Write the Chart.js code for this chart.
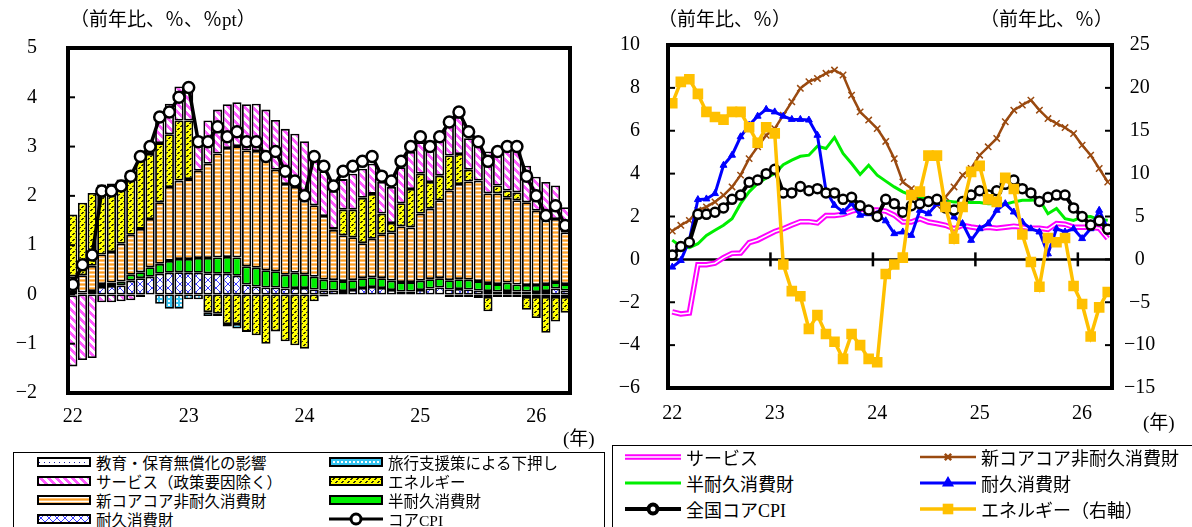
<!DOCTYPE html>
<html>
<head>
<meta charset="utf-8">
<script src="https://cdn.jsdelivr.net/npm/chart.js@4.4.1/dist/chart.umd.min.js"></script>
<style>
  html, body { margin: 0; padding: 0; background: #fff; }
  body { width: 1192px; height: 527px; overflow: hidden; position: relative;
         font-family: "Liberation Serif", "Noto Sans CJK JP", serif; color: #000; }
  .abs { position: absolute; white-space: nowrap; }
  .title { font-size: 19px; line-height: 28px; }
  .legend { position: absolute; border: 1.5px solid #000; background: #fff; }
  .item { position: absolute; display: flex; align-items: center; white-space: nowrap; }
</style>
</head>
<body>
<canvas id="left" class="abs" width="600" height="445" style="left:0;top:0"></canvas>
<canvas id="right" class="abs" width="592" height="445" style="left:600px;top:0"></canvas>

<div class="abs title" style="left:70px;top:6px">（前年比、％、％pt）</div>
<div class="abs title" style="left:658px;top:6px">（前年比、％）</div>
<div class="abs title" style="left:980px;top:6px">（前年比、％）</div>
<div class="abs" style="left:563px;top:423px;font-size:19px">(年)</div>
<div class="abs" style="left:1143px;top:407px;font-size:19px">(年)</div>

<div class="legend" style="left:13px;top:452px;width:590px;height:100px"></div>
<div class="legend" style="left:612px;top:445px;width:600px;height:100px"></div>
<div id="legendItems"></div>

<script>
// Jan 2022 .. Apr 2026
const months = [
  "22/01","22/02","22/03","22/04","22/05","22/06","22/07","22/08","22/09","22/10","22/11","22/12",
  "23/01","23/02","23/03","23/04","23/05","23/06","23/07","23/08","23/09","23/10","23/11","23/12",
  "24/01","24/02","24/03","24/04","24/05","24/06","24/07","24/08","24/09","24/10","24/11","24/12",
  "25/01","25/02","25/03","25/04","25/05","25/06","25/07","25/08","25/09","25/10","25/11","25/12",
  "26/01","26/02","26/03","26/04"
];
const yearLabels = ["22", "23", "24", "25", "26"];

// left panel: contributions (%pt)
const eduEffect = [
  0,0,0,0,0,0,0,0,0,0,0,0,
  0,0,0,0,0,0,0,0,0,0,0,0,
  0,0,0,0,0,0,0,0,0,0,0,0,
  0,0,0,-0.05,-0.05,-0.05,-0.05,-0.05,-0.05,-0.05,-0.05,-0.05,
  -0.05,-0.05,-0.05,-0.05
];
const travelSupport = [
  0,0,0,0,0,0,0,0,0,-0.19,-0.29,-0.29,
  -0.10,-0.10,-0.08,-0.05,-0.05,-0.09,0,0,0,0,0,0,
  0,0,0,0,0,0,0,0,0,0,0,0,
  0,0,0,0,0,0,0,0,0,0,0,0,
  0,0,0,0
];
const durableC = [
  -0.02,0.00,0.03,0.15,0.17,0.18,0.28,0.33,0.36,0.42,0.44,0.45,
  0.44,0.44,0.43,0.42,0.42,0.38,0.20,0.16,0.14,0.14,0.12,0.13,
  0.13,0.10,0.08,0.08,0.07,0.09,0.13,0.15,0.13,0.09,0.06,0.06,
  0.09,0.12,0.14,0.10,0.11,0.10,0.08,0.07,0.06,0.07,0.06,0.06,
  0.05,0.07,0.12,0.08
];
const semiDurableC = [
  0.05,0.04,0.04,0.06,0.07,0.08,0.12,0.12,0.19,0.20,0.24,0.27,
  0.28,0.30,0.31,0.33,0.34,0.37,0.37,0.38,0.35,0.33,0.28,0.31,
  0.28,0.26,0.22,0.21,0.20,0.20,0.20,0.20,0.20,0.19,0.19,0.19,
  0.19,0.19,0.19,0.19,0.20,0.20,0.19,0.16,0.15,0.17,0.14,0.13,
  0.14,0.14,0.13,0.13
];
const coreCoreC = [
  0.32,0.35,0.51,0.60,0.62,0.77,0.81,0.88,0.98,1.25,1.50,1.59,
  1.62,1.77,1.91,2.11,2.21,2.26,2.35,2.37,2.29,2.06,1.84,1.74,
  1.60,1.45,1.29,1.02,0.93,0.87,0.71,0.78,0.89,0.98,1.13,1.11,
  1.36,1.43,1.58,1.82,1.93,1.99,2.04,1.82,1.84,1.72,1.71,1.68,
  1.51,1.29,1.28,1.05
];
const energyC = [
  1.25,1.47,1.48,1.42,1.39,1.30,1.30,1.45,1.32,1.20,1.07,1.22,
  1.19,0.00,-0.36,-0.39,-0.60,-0.60,-0.76,-0.83,-1.00,-0.75,-0.95,-1.03,
  -1.10,-0.14,-0.04,0.02,0.52,0.56,0.92,0.91,0.42,0.19,0.47,0.78,
  0.81,0.54,0.50,0.71,0.61,0.24,-0.02,-0.29,0.16,0.15,0.16,-0.26,
  -0.43,-0.73,-0.50,-0.32
];
const serviceC = [
  -1.44,-1.33,-1.29,-0.16,-0.16,-0.14,-0.12,-0.05,0.10,0.50,0.62,0.69,
  0.67,0.61,0.88,0.89,0.89,0.89,0.94,0.96,0.97,1.01,1.12,1.08,
  1.10,1.01,0.91,0.77,0.62,0.73,0.59,0.61,0.64,0.73,0.73,0.75,
  0.64,0.77,0.74,0.65,0.75,0.64,0.75,0.85,0.75,0.86,0.88,0.74,
  0.69,0.78,0.68,0.51
];
const coreCpi = [
  0.2,0.6,0.8,2.1,2.1,2.2,2.4,2.8,3.0,3.6,3.7,4.0,
  4.2,3.1,3.1,3.4,3.2,3.3,3.1,3.1,2.8,2.9,2.5,2.3,
  2.0,2.8,2.6,2.2,2.5,2.6,2.7,2.8,2.4,2.3,2.7,3.0,
  3.2,3.0,3.2,3.5,3.7,3.3,3.1,2.7,2.9,3.0,3.0,2.4,
  2.0,1.6,1.8,1.4
];

// right panel: y/y % changes
const serviceYoY = [
  -2.45,-2.55,-2.50,-0.25,-0.25,-0.18,0.08,0.28,0.30,0.78,0.90,1.10,
  1.30,1.43,1.60,1.76,1.76,1.70,2.05,2.05,2.10,2.25,2.35,2.30,
  2.30,2.25,2.06,1.74,1.74,1.90,1.74,1.67,1.59,1.43,1.59,1.51,
  1.45,1.50,1.45,1.50,1.55,1.50,1.45,1.45,1.40,1.67,1.64,1.50,
  1.50,1.50,1.45,0.97
];
const coreCoreYoY = [
  1.32,1.59,1.82,2.29,2.45,2.68,2.99,3.38,3.93,4.70,5.25,5.79,
  6.10,6.73,7.35,7.98,8.29,8.44,8.68,8.83,8.60,7.66,6.88,6.50,
  6.10,5.50,4.70,3.61,3.30,2.60,2.76,2.52,2.91,3.38,3.93,4.24,
  4.86,5.25,5.64,6.42,6.96,7.20,7.43,6.96,6.57,6.34,6.15,5.87,
  5.33,4.86,4.24,3.61
];
const semiDurableYoY = [
  0.90,0.60,0.55,0.73,1.12,1.36,1.59,1.90,2.60,3.15,3.54,3.80,
  4.00,4.42,4.63,4.81,4.86,5.28,5.17,5.69,4.94,4.47,3.96,4.39,
  3.93,3.65,3.38,3.15,2.99,2.91,2.83,2.79,2.73,2.68,2.68,2.65,
  2.65,2.60,2.60,2.57,2.68,2.76,2.76,2.79,2.13,2.37,1.90,1.82,
  1.98,2.00,1.85,1.82
];
const durableYoY = [
  -0.36,-0.05,0.89,2.79,2.82,3.07,4.39,4.86,5.72,6.26,6.68,7.00,
  6.88,6.68,6.53,6.53,6.50,5.79,3.20,2.52,2.21,2.60,2.06,2.13,
  2.10,1.80,1.20,1.28,1.12,2.29,2.13,2.60,2.60,1.98,1.67,0.89,
  1.43,1.67,2.29,2.60,2.21,1.74,1.43,1.28,0.26,1.43,1.28,1.43,
  0.97,1.43,2.29,1.43
];
const energyYoY = [
  18.2,20.7,21.0,19.3,17.2,16.6,16.3,17.2,17.2,15.4,13.6,15.4,
  14.7,-0.6,-3.7,-4.3,-8.1,-6.5,-8.7,-9.6,-11.6,-8.7,-10.0,-11.6,
  -12.0,-1.7,-0.6,0.2,7.5,7.9,12.1,12.1,6.1,2.4,6.1,10.2,
  10.9,7.0,6.7,9.5,8.2,2.9,-0.3,-3.2,2.5,2.0,2.5,-3.1,
  -5.2,-9.0,-5.6,-3.8
];

const FONT = '"Liberation Serif", "Noto Sans CJK JP", serif';
const minus = v => String(v).replace('-', '\u2212');

// small repeating fills for the bar segments
function tile(w, h, colorAt) {
  const c = document.createElement("canvas");
  c.width = w; c.height = h;
  const g = c.getContext("2d");
  for (let y = 0; y < h; y++) {
    for (let x = 0; x < w; x++) {
      g.fillStyle = colorAt(x, y);
      g.fillRect(x, y, 1, 1);
    }
  }
  return g.createPattern(c, "repeat");
}
const orangeRows = ["#ff9c1e", "#ffc070", "#ffffff", "#ffc070"];
const fills = {
  edu: tile(5, 4, (x, y) => (x === 2 && y === 1) ? "#1a1aa0" : "#ffffff"),
  travel: tile(4, 4, (x, y) => (x < 2 && y < 2) ? "#ffffff" : "#33c3f0"),
  service: tile(8, 8, (x, y) => ((x - y + 16) % 8) < 4 ? "#ff5cff" : "#ffffff"),
  energy: tile(6, 6, (x, y) => (((x + y) % 6) < 2 && ((x - y + 12) % 6) < 4) ? "#303000" : "#ffff00"),
  coreCore: tile(1, 4, (x, y) => orangeRows[y]),
  semi: "#00f000",
  durable: tile(8, 8, (x, y) => (x === y || x === 7 - y) ? "#3c3cff" : "#ffffff")
};

// thick frame, inward tick marks, and (right panel) zero line with year ticks
function framePlugin(zeroLine) {
  return {
    id: "frame",
    beforeDatasetsDraw(chart) {
      if (!zeroLine) return;
      const { ctx, chartArea: a, scales } = chart;
      const y0 = scales.y.getPixelForValue(0);
      ctx.save();
      ctx.strokeStyle = "#000";
      ctx.lineWidth = 2.5;
      ctx.beginPath();
      ctx.moveTo(a.left, y0);
      ctx.lineTo(a.right, y0);
      ctx.stroke();
      for (let i = 12; i < months.length; i += 12) {
        const x = (scales.x.getPixelForValue(i - 1) + scales.x.getPixelForValue(i)) / 2;
        ctx.beginPath();
        ctx.moveTo(x, y0 - 7);
        ctx.lineTo(x, y0 + 7);
        ctx.stroke();
      }
      ctx.restore();
    },
    afterDatasetsDraw(chart) {
      const { ctx, chartArea: a, scales } = chart;
      ctx.save();
      ctx.strokeStyle = "#000";
      ctx.lineWidth = 2;
      ["y", "y1"].forEach(id => {
        const s = scales[id];
        if (!s) return;
        s.ticks.forEach(t => {
          const y = s.getPixelForValue(t.value);
          if (y <= a.top + 2 || y >= a.bottom - 2) return;
          ctx.beginPath();
          if (s.position === "right") { ctx.moveTo(a.right, y); ctx.lineTo(a.right - 7, y); }
          else { ctx.moveTo(a.left, y); ctx.lineTo(a.left + 7, y); }
          ctx.stroke();
        });
      });
      ctx.lineWidth = 4;
      ctx.strokeRect(a.left, a.top, a.right - a.left, a.bottom - a.top);
      ctx.restore();
    }
  };
}

const tickFont = { family: FONT, size: 20 };
const yearTick = (v, i) => (i % 12 === 0 ? yearLabels[i / 12] : "");

function barSet(label, data, fill) {
  return {
    label: label, data: data, backgroundColor: fill,
    borderColor: "#000", borderWidth: 1.8, borderSkipped: false,
    barPercentage: 0.95, categoryPercentage: 1.0
  };
}

// left: stacked contributions
new Chart(document.getElementById("left"), {
  type: "bar",
  data: {
    labels: months,
    datasets: [
      barSet("教育・保育無償化の影響", eduEffect, fills.edu),
      barSet("耐久消費財", durableC, fills.durable),
      barSet("半耐久消費財", semiDurableC, fills.semi),
      barSet("新コアコア非耐久消費財", coreCoreC, fills.coreCore),
      barSet("エネルギー", energyC, fills.energy),
      barSet("旅行支援策による下押し", travelSupport, fills.travel),
      barSet("サービス（政策要因除く）", serviceC, fills.service),
      {
        type: "line", label: "コアCPI", data: coreCpi, stack: "cpi", order: -1,
        borderColor: "#000", borderWidth: 3.5, tension: 0,
        pointRadius: 5.5, pointBackgroundColor: "#fff", pointBorderColor: "#000", pointBorderWidth: 2.5
      }
    ]
  },
  options: {
    responsive: false, animation: false, devicePixelRatio: 1, events: [],
    layout: { padding: { top: 48, right: 30, left: 0, bottom: 0 } },
    plugins: { legend: { display: false }, tooltip: { enabled: false } },
    scales: {
      x: {
        stacked: true, offset: true,
        grid: { display: false, drawTicks: false }, border: { display: false },
        ticks: { autoSkip: false, maxRotation: 0, padding: 12, color: "#000", font: tickFont, callback: yearTick },
        afterFit(s) { s.height = 52; s.paddingLeft = 0; s.paddingRight = 0; }
      },
      y: {
        stacked: true, min: -2, max: 5,
        grid: { display: false, drawTicks: false }, border: { display: false },
        ticks: { stepSize: 1, padding: 31, color: "#000", font: tickFont, callback: minus },
        afterFit(s) { s.width = 68; s.paddingTop = 0; s.paddingBottom = 0; }
      }
    }
  },
  plugins: [framePlugin(false)]
});

// right: y/y lines
const rightSets = [
  { label: "エネルギー（右軸）", data: energyYoY, yAxisID: "y1", order: 0,
    borderColor: "#ffc000", borderWidth: 3.5, pointStyle: "rect", pointRadius: 7.5,
    pointBackgroundColor: "#ffc000", pointBorderColor: "#ffc000", pointBorderWidth: 0 },
  { label: "全国コアCPI", data: coreCpi, order: 1,
    borderColor: "#000", borderWidth: 4, pointRadius: 4.5,
    pointBackgroundColor: "#fff", pointBorderColor: "#000", pointBorderWidth: 2.5 },
  { label: "耐久消費財", data: durableYoY, order: 2,
    borderColor: "#0000ff", borderWidth: 3, pointStyle: "triangle", pointRadius: 4,
    pointBackgroundColor: "#0000ff", pointBorderColor: "#0000ff", pointBorderWidth: 1 },
  { label: "新コアコア非耐久消費財", data: coreCoreYoY, order: 3,
    borderColor: "#9a4a10", borderWidth: 2.5, pointStyle: "crossRot", pointRadius: 4.5,
    pointBorderColor: "#9a4a10", pointBorderWidth: 1.5 },
  { label: "半耐久消費財", data: semiDurableYoY, order: 4,
    borderColor: "#00ee00", borderWidth: 3, pointRadius: 0 },
  { label: "サービス", data: serviceYoY, order: 5,
    borderColor: "#ffffff", borderWidth: 1.6, pointRadius: 0 },
  { label: "サービス", data: serviceYoY, order: 6,
    borderColor: "#ff00ff", borderWidth: 5.5, pointRadius: 0 }
];
rightSets.forEach(d => { d.tension = 0; d.fill = false; });

new Chart(document.getElementById("right"), {
  type: "line",
  data: { labels: months, datasets: rightSets },
  options: {
    responsive: false, animation: false, devicePixelRatio: 1, events: [],
    layout: { padding: { top: 45, right: 0, left: 0, bottom: 0 } },
    plugins: { legend: { display: false }, tooltip: { enabled: false } },
    scales: {
      x: {
        offset: true,
        grid: { display: false, drawTicks: false }, border: { display: false },
        ticks: { autoSkip: false, maxRotation: 0, padding: 14, color: "#000", font: tickFont, callback: yearTick },
        afterFit(s) { s.height = 57; s.paddingLeft = 0; s.paddingRight = 0; }
      },
      y: {
        min: -6, max: 10,
        grid: { display: false, drawTicks: false }, border: { display: false },
        ticks: { stepSize: 2, padding: 28, color: "#000", font: tickFont, callback: minus },
        afterFit(s) { s.width = 68; s.paddingTop = 0; s.paddingBottom = 0; }
      },
      y1: {
        position: "right", min: -15, max: 25,
        grid: { display: false, drawTicks: false }, border: { display: false },
        ticks: { stepSize: 5, padding: 12, crossAlign: "center", color: "#000", font: tickFont, callback: minus },
        afterFit(s) { s.width = 80; s.paddingTop = 0; s.paddingBottom = 0; }
      }
    }
  },
  plugins: [framePlugin(true)]
});

// legends
const holder = document.getElementById("legendItems");

function addItem(x, y, swW, swH, text, fontSize, draw) {
  const el = document.createElement("div");
  el.className = "item";
  el.style.left = x + "px";
  el.style.top = (y - 12) + "px";
  el.style.height = "24px";
  el.style.fontSize = fontSize + "px";
  const cv = document.createElement("canvas");
  cv.width = swW; cv.height = swH;
  cv.style.marginRight = "5px";
  draw(cv.getContext("2d"), swW, swH);
  el.appendChild(cv);
  const span = document.createElement("span");
  span.textContent = text;
  el.appendChild(span);
  holder.appendChild(el);
}

function boxSwatch(fill) {
  return (g, w, h) => {
    g.fillStyle = fill;
    g.fillRect(1, 1, w - 2, h - 2);
    g.strokeStyle = "#000";
    g.lineWidth = 2;
    g.strokeRect(1, 1, w - 2, h - 2);
  };
}

function lineSwatch(ds, extra) {
  return (g, w, h) => {
    if (extra) {
      g.strokeStyle = extra.color; g.lineWidth = extra.width;
      g.beginPath(); g.moveTo(0, h / 2); g.lineTo(w, h / 2); g.stroke();
    }
    g.strokeStyle = ds.borderColor; g.lineWidth = ds.borderWidth;
    g.beginPath(); g.moveTo(0, h / 2); g.lineTo(w, h / 2); g.stroke();
    if (ds.pointRadius) {
      g.fillStyle = ds.pointBackgroundColor || ds.borderColor;
      g.strokeStyle = ds.pointBorderColor;
      Chart.helpers.drawPoint(g, {
        pointStyle: ds.pointStyle || "circle", radius: ds.pointRadius,
        rotation: 0, borderWidth: ds.pointBorderWidth
      }, w / 2, h / 2);
    }
  };
}

const leftRows = [462, 481, 500, 519];
const leftItems = [
  ["教育・保育無償化の影響", fills.edu], ["旅行支援策による下押し", fills.travel],
  ["サービス（政策要因除く）", fills.service], ["エネルギー", fills.energy],
  ["新コアコア非耐久消費財", fills.coreCore], ["半耐久消費財", fills.semi],
  ["耐久消費財", fills.durable], ["コアCPI", null]
];
leftItems.forEach((it, k) => {
  const x = k % 2 === 0 ? 37 : 329;
  const y = leftRows[Math.floor(k / 2)];
  if (it[1]) addItem(x, y, 54, 10, it[0], 15.5, boxSwatch(it[1]));
  else addItem(x, y, 54, 14, it[0], 15.5, lineSwatch({
    borderColor: "#000", borderWidth: 3, pointRadius: 5,
    pointBackgroundColor: "#fff", pointBorderColor: "#000", pointBorderWidth: 2.5
  }));
});

const rightRows = [457, 483, 509];
const byLabel = l => rightSets.find(d => d.label === l);
const rightItems = [
  ["サービス", lineSwatch(rightSets[5], { color: "#ff00ff", width: 5.5 })],
  ["新コアコア非耐久消費財", lineSwatch(byLabel("新コアコア非耐久消費財"))],
  ["半耐久消費財", lineSwatch(byLabel("半耐久消費財"))],
  ["耐久消費財", lineSwatch(byLabel("耐久消費財"))],
  ["全国コアCPI", lineSwatch(byLabel("全国コアCPI"))],
  ["エネルギー（右軸）", lineSwatch(byLabel("エネルギー（右軸）"))]
];
rightItems.forEach((it, k) => {
  const x = k % 2 === 0 ? 625 : 920;
  const y = rightRows[Math.floor(k / 2)];
  addItem(x, y, 56, 16, it[0], 18, it[1]);
});
</script>
</body>
</html>
